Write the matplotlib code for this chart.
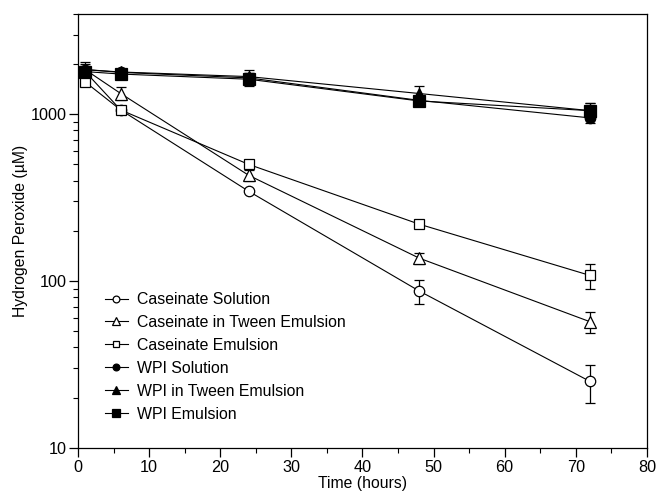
#!/usr/bin/env python
# -*- coding: utf-8 -*-

import matplotlib
matplotlib.use('Agg')
import matplotlib.pyplot as plt
from matplotlib.ticker import LogLocator, NullFormatter, MultipleLocator

plt.rcParams['font.family'] = ['Liberation Sans', 'DejaVu Sans']

# sampling times (hours)
time_h = [1, 6, 24, 48, 72]

# hydrogen peroxide (uM) per series
cas_solution = [1800, 1060, 345, 87, 25]
cas_solution_err = [0, 0, 0, 14, 6.5]
cas_tween = [1850, 1330, 430, 137, 57]
cas_tween_err = [0, 120, 30, 11, 8]
cas_emulsion = [1560, 1060, 500, 219, 108]
cas_emulsion_err = [0, 40, 25, 10, 19]
wpi_solution = [1850, 1780, 1650, 1210, 950]
wpi_solution_err = [150, 60, 120, 80, 60]
wpi_tween = [1850, 1790, 1680, 1330, 1050]
wpi_tween_err = [200, 60, 150, 150, 110]
wpi_emulsion = [1800, 1740, 1620, 1200, 1050]
wpi_emulsion_err = [150, 60, 150, 80, 110]

labels = ['Caseinate Solution', 'Caseinate in Tween Emulsion',
          'Caseinate Emulsion', 'WPI Solution', 'WPI in Tween Emulsion',
          'WPI Emulsion']


def main():
    fig = plt.figure(figsize=(6.56, 4.91), dpi=100)
    ax = fig.add_axes([0.119, 0.088, 0.867, 0.884])

    series = [
        (cas_solution, cas_solution_err, 'o', 'white', 7.5),
        (cas_tween, cas_tween_err, '^', 'white', 8),
        (cas_emulsion, cas_emulsion_err, 's', 'white', 7),
        (wpi_solution, wpi_solution_err, 'o', 'black', 7.5),
        (wpi_tween, wpi_tween_err, '^', 'black', 8),
        (wpi_emulsion, wpi_emulsion_err, 's', 'black', 8),
    ]
    for (vals, err, mk, face, ms), lab in zip(series, labels):
        ax.errorbar(time_h, vals, yerr=err, marker=mk, mfc=face, mec='black',
                    mew=0.9, ms=ms, color='black', lw=0.8, ecolor='black',
                    elinewidth=0.9, capsize=3.5, capthick=0.9, label=lab)

    ax.set_yscale('log')
    ax.set_xlim(0, 80)
    ax.set_ylim(10, 4000)
    ax.xaxis.set_major_locator(MultipleLocator(10))
    ax.xaxis.set_minor_locator(MultipleLocator(5))
    ax.yaxis.set_minor_locator(LogLocator(base=10, subs=range(2, 10)))
    ax.yaxis.set_minor_formatter(NullFormatter())
    ax.set_yticks([10, 100, 1000])
    ax.set_yticklabels(['10', '100', '1000'])

    ax.tick_params(which='major', direction='out', length=6.5, width=0.9,
                   labelsize=11.7, pad=2)
    ax.tick_params(which='minor', direction='out', length=3.5, width=0.8)
    for sp in ax.spines.values():
        sp.set_linewidth(0.9)

    ax.set_xlabel('Time (hours)', fontsize=11.3, labelpad=1)
    ax.set_ylabel('Hydrogen Peroxide (µM)', fontsize=11.3, labelpad=1.5)

    handles, labs = ax.get_legend_handles_labels()
    handles = [h[0] for h in handles]
    ax.legend(handles, labs, loc='lower left', bbox_to_anchor=(0.033, 0.042),
              frameon=False, fontsize=11.4, handlelength=1.46,
              handletextpad=0.57, labelspacing=0.5, borderpad=0,
              markerscale=0.65)

    plt.savefig('out.png', dpi=100)


if __name__ == "__main__":
    main()
